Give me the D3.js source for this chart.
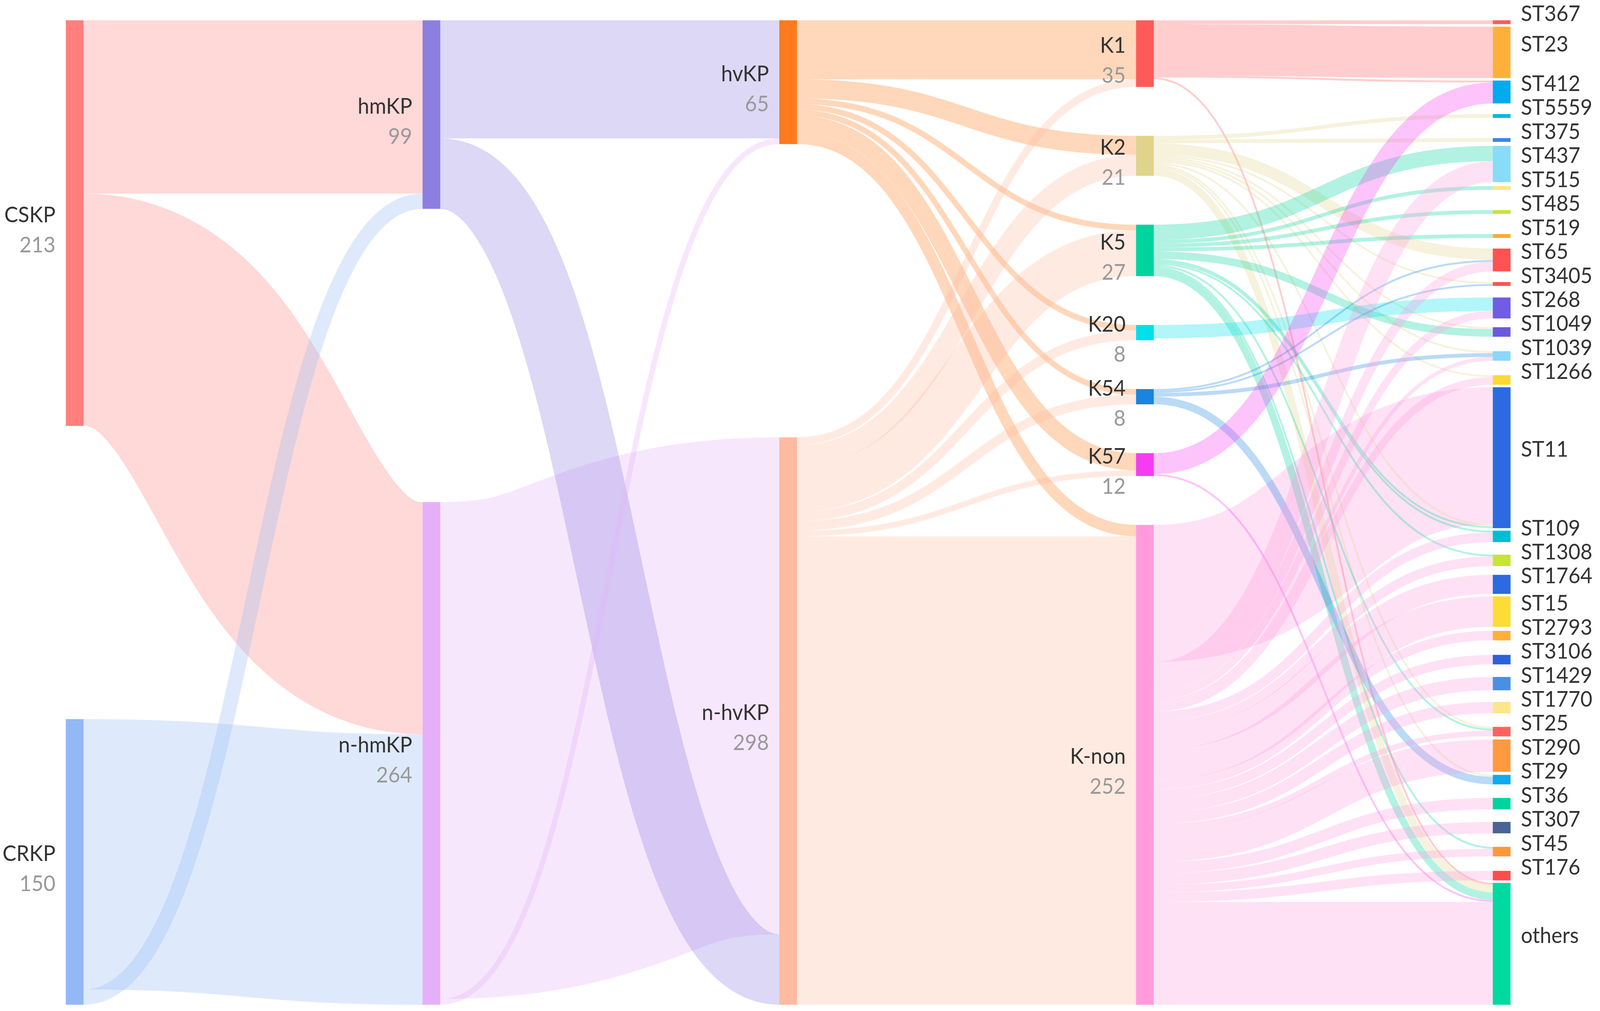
<!DOCTYPE html>
<html>
<head>
<meta charset="utf-8">
<script src="https://cdn.jsdelivr.net/npm/d3@7"></script>
<style>
  html, body { margin: 0; padding: 0; background: #fff; overflow: hidden; }
  svg { display: block; width: 100vw; height: 100vh; }
  text { font-family: Lato, "Noto Sans", sans-serif; }
</style>
</head>
<body>
<svg id="chart"></svg>
<script>
// ── Data ────────────────────────────────────────────────────────────────
const resistance   = ['CSKP', 'CRKP'];
const mucoviscous  = ['hmKP', 'n-hmKP'];
const virulence    = ['hvKP', 'n-hvKP'];
const capsule      = ['K1', 'K2', 'K5', 'K20', 'K54', 'K57', 'K-non'];
const sequenceType = ['ST367', 'ST23', 'ST412', 'ST5559', 'ST375', 'ST437', 'ST515', 'ST485',
  'ST519', 'ST65', 'ST3405', 'ST268', 'ST1049', 'ST1039', 'ST1266', 'ST11', 'ST109', 'ST1308',
  'ST1764', 'ST15', 'ST2793', 'ST3106', 'ST1429', 'ST1770', 'ST25', 'ST290', 'ST29', 'ST36',
  'ST307', 'ST45', 'ST176', 'others'];

// links: [source, target, count]  (order = stacking order at both ends)
const resistanceLinks = [
  ['CSKP', 'hmKP', 91], ['CSKP', 'n-hmKP', 122],
  ['CRKP', 'n-hmKP', 142], ['CRKP', 'hmKP', 8]
];
const mucoidLinks = [
  ['hmKP', 'hvKP', 62], ['n-hmKP', 'n-hvKP', 261],
  ['hmKP', 'n-hvKP', 37], ['n-hmKP', 'hvKP', 3]
];
const virulenceLinks = [
  ['hvKP', 'K1', 31], ['hvKP', 'K2', 10], ['hvKP', 'K5', 3], ['hvKP', 'K20', 3],
  ['hvKP', 'K54', 3], ['hvKP', 'K57', 9], ['hvKP', 'K-non', 6],
  ['n-hvKP', 'K1', 4], ['n-hvKP', 'K2', 11], ['n-hvKP', 'K5', 24], ['n-hvKP', 'K20', 5],
  ['n-hvKP', 'K54', 5], ['n-hvKP', 'K57', 3], ['n-hvKP', 'K-non', 246]
];
const capsuleLinks = [
  ['K-non', 'ST11', 72],
  ['K1', 'ST367', 2], ['K1', 'ST23', 27], ['K1', 'ST412', 1], ['K1', 'others', 1],
  ['K2', 'ST5559', 2], ['K2', 'ST375', 2], ['K2', 'ST65', 6], ['K2', 'ST3405', 1],
  ['K2', 'ST1049', 1], ['K2', 'ST1039', 1], ['K2', 'ST1266', 1], ['K2', 'ST11', 1],
  ['K2', 'ST25', 1], ['K2', 'ST29', 1], ['K2', 'others', 4],
  ['K5', 'ST437', 8], ['K5', 'ST515', 2], ['K5', 'ST485', 2], ['K5', 'ST519', 2],
  ['K5', 'ST1049', 4], ['K5', 'ST11', 1], ['K5', 'ST109', 1], ['K5', 'ST1308', 1],
  ['K5', 'ST25', 1], ['K5', 'ST45', 1], ['K5', 'others', 4],
  ['K20', 'ST268', 7],
  ['K54', 'ST65', 1], ['K54', 'ST3405', 1], ['K54', 'ST1039', 2], ['K54', 'ST29', 4],
  ['K57', 'ST412', 11], ['K57', 'others', 1],
  ['K-non', 'ST437', 11], ['K-non', 'ST65', 5], ['K-non', 'ST268', 4], ['K-non', 'ST1039', 2],
  ['K-non', 'ST1266', 4], ['K-non', 'ST109', 5], ['K-non', 'ST1308', 5], ['K-non', 'ST1764', 10],
  ['K-non', 'ST15', 16], ['K-non', 'ST2793', 5], ['K-non', 'ST3106', 5], ['K-non', 'ST1429', 7],
  ['K-non', 'ST1770', 6], ['K-non', 'ST25', 3], ['K-non', 'ST290', 17], ['K-non', 'ST36', 6],
  ['K-non', 'ST307', 6], ['K-non', 'ST45', 4], ['K-non', 'ST176', 5], ['K-non', 'others', 54]
];

// ── Styles ──────────────────────────────────────────────────────────────
const nodeColors = {
  'CSKP': '#ff7f7f', 'CRKP': '#93b8f5',
  'hmKP': '#8c7fe0', 'n-hmKP': '#e6b0f8',
  'hvKP': '#ff7a1c', 'n-hvKP': '#ffbba0',
  'K1': '#ff5a5a', 'K2': '#e0d38c', 'K5': '#00d49e', 'K20': '#00e0ea',
  'K54': '#1a84e0', 'K57': '#f53cf2', 'K-non': '#ff9bdd',
  'ST367': '#ff5a5a', 'ST23': '#ffb03b', 'ST412': '#00aaef', 'ST5559': '#00bcd4',
  'ST375': '#3d85e6', 'ST437': '#87dcf8', 'ST515': '#fde58a', 'ST485': '#c6e43a',
  'ST519': '#ffa932', 'ST65': '#ff5252', 'ST3405': '#ff5252', 'ST268': '#715ce6',
  'ST1049': '#6b5bdc', 'ST1039': '#8ad8f8', 'ST1266': '#fdd835', 'ST11': '#2b6ae0',
  'ST109': '#00bcd4', 'ST1308': '#c6e43a', 'ST1764': '#2b6ae0', 'ST15': '#fddc35',
  'ST2793': '#ffb03b', 'ST3106': '#2b62dc', 'ST1429': '#4a90e2', 'ST1770': '#fde68a',
  'ST25': '#ff6161', 'ST290': '#ff9a40', 'ST29': '#0faaf0', 'ST36': '#00d49e',
  'ST307': '#4a6595', 'ST45': '#ff9838', 'ST176': '#ff4d4d', 'others': '#00d9a0'
};

const W = 4328, H = 2588;
const yTop = 52, yBottom = 2572;
const nodeW = 48;
const nodePad = 25;      // padding used to size the value scale
const minGap = 5;        // smallest gap between stacked nodes
const labelStep = 60;    // smallest centre distance so one-line labels don't collide
const fontSize = 56;

// ── Layout ──────────────────────────────────────────────────────────────
const columns = [resistance, mucoviscous, virulence, capsule, sequenceType];
const lastDepth = columns.length - 1;
const nodeMap = new Map();
columns.forEach((names, depth) => names.forEach(name =>
  nodeMap.set(name, { name, depth, inSum: 0, outSum: 0, ins: [], outs: [] })));

const links = [...resistanceLinks, ...mucoidLinks, ...virulenceLinks, ...capsuleLinks]
  .map(([s, t, v]) => {
    const l = { source: nodeMap.get(s), target: nodeMap.get(t), value: v };
    l.source.outSum += v; l.source.outs.push(l);
    l.target.inSum += v;  l.target.ins.push(l);
    return l;
  });
nodeMap.forEach(n => { n.value = Math.max(n.inSum, n.outSum); });

// value→pixel scale from the tightest column
const colK = columns.map(names =>
  ((yBottom - yTop) - (names.length - 1) * nodePad) / d3.sum(names, n => nodeMap.get(n).value));
const ky = d3.min(colK);
const hScale = d3.scaleLinear().domain([0, 1]).range([0, ky]);
const xScale = d3.scaleLinear().domain([0, lastDepth]).range([178, 4038]);

columns.forEach((names, depth) => {
  names.forEach(name => {
    const n = nodeMap.get(name);
    n.x0 = xScale(depth); n.x1 = n.x0 + nodeW;
  });
  if (depth === lastDepth) {
    // last column: stack top-down keeping one-line labels apart,
    // then spread whatever room is left evenly over the gaps
    let prevY1 = yTop - minGap, prevC = -Infinity;
    names.forEach(name => {
      const n = nodeMap.get(name);
      const h = hScale(n.value);
      n.y0 = Math.max(prevY1 + minGap, prevC + labelStep - h / 2, yTop);
      n.y1 = n.y0 + h;
      prevY1 = n.y1; prevC = n.y0 + h / 2;
    });
    const extra = Math.max(0, yBottom - prevY1);
    names.forEach((name, i) => {
      const n = nodeMap.get(name);
      const shift = extra * i / (names.length - 1);
      n.y0 += shift; n.y1 += shift;
    });
    return;
  }
  // inner columns: spread nodes over the full height
  const total = d3.sum(names, n => hScale(nodeMap.get(n).value));
  const gap = names.length > 1 ? ((yBottom - yTop) - total) / (names.length - 1) : 0;
  let y = yTop;
  names.forEach(name => {
    const n = nodeMap.get(name);
    n.y0 = y; n.y1 = y + hScale(n.value);
    y = n.y1 + gap;
  });
});

// stack links at each end in data order
nodeMap.forEach(n => {
  let yo = n.y0;
  n.outs.forEach(l => { l.width = hScale(l.value); l.ys = yo + l.width / 2; yo += l.width; });
  let yi = n.y0;
  n.ins.forEach(l => { const w = hScale(l.value); l.yt = yi + w / 2; yi += w; });
});

// ── Draw ────────────────────────────────────────────────────────────────
const svg = d3.select('#chart')
  .attr('viewBox', `0 0 ${W} ${H}`)
  .attr('preserveAspectRatio', 'none');
svg.append('rect').attr('width', W).attr('height', H).attr('fill', '#fff');

const linkPath = d3.linkHorizontal()
  .source(d => [d.source.x1, d.ys])
  .target(d => [d.target.x0, d.yt]);

svg.append('g').attr('fill', 'none')
  .selectAll('path').data(links).join('path')
  .attr('d', linkPath)
  .attr('stroke', d => nodeColors[d.source.name])
  .attr('stroke-opacity', 0.3)
  .attr('stroke-width', d => Math.max(1.5, d.width));

const nodes = Array.from(nodeMap.values());
svg.append('g').selectAll('rect').data(nodes).join('rect')
  .attr('x', d => d.x0).attr('y', d => d.y0)
  .attr('width', nodeW).attr('height', d => Math.max(1, d.y1 - d.y0))
  .attr('fill', d => nodeColors[d.name]);

// labels: left side with value for inner columns, right side for the last one
const labels = svg.append('g').attr('font-size', fontSize);
labels.selectAll('text.name').data(nodes).join('text')
  .attr('class', 'name')
  .attr('x', d => d.depth === lastDepth ? d.x1 + 28 : d.x0 - 28)
  .attr('y', d => (d.y0 + d.y1) / 2 - 22)
  .attr('dy', '0.35em')
  .attr('text-anchor', d => d.depth === lastDepth ? 'start' : 'end')
  .attr('fill', '#333')
  .text(d => d.name);
labels.selectAll('text.value').data(nodes.filter(d => d.depth !== lastDepth)).join('text')
  .attr('class', 'value')
  .attr('x', d => d.x0 - 28)
  .attr('y', d => (d.y0 + d.y1) / 2 + 55)
  .attr('dy', '0.35em')
  .attr('text-anchor', 'end')
  .attr('fill', '#999')
  .text(d => d.value);
</script>
</body>
</html>
